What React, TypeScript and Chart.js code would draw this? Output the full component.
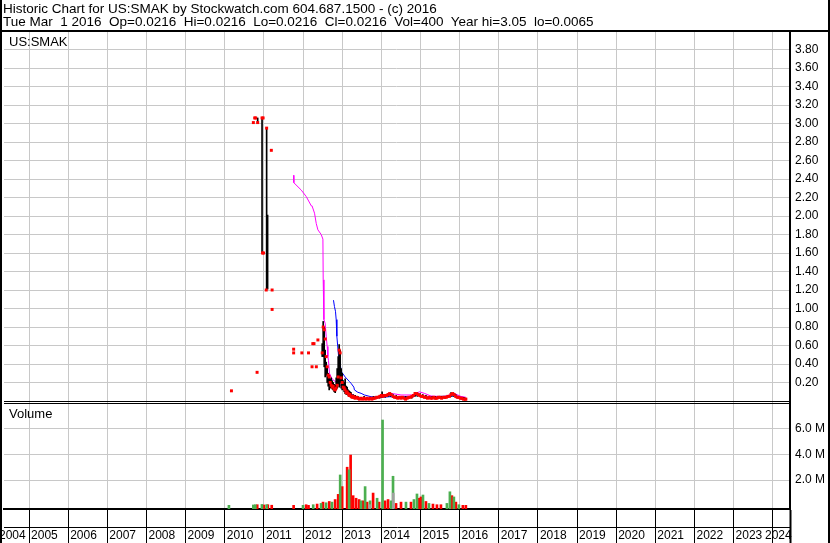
import React, { useEffect, useRef } from 'react';
import { Chart, registerables } from 'chart.js';

Chart.register(...registerables);

const HEADER_LINE_1 = 'Historic Chart for US:SMAK by Stockwatch.com 604.687.1500 - (c) 2016';
const HEADER_LINE_2 = 'Tue Mar  1 2016  Op=0.0216  Hi=0.0216  Lo=0.0216  Cl=0.0216  Vol=400  Year hi=3.05  lo=0.0065';
const PRICE_PANEL_LABEL = 'US:SMAK';
const VOLUME_PANEL_LABEL = 'Volume';

const yearTicks = [2004, 2005, 2006, 2007, 2008, 2009, 2010, 2011, 2012, 2013, 2014, 2015, 2016, 2017, 2018, 2019, 2020, 2021, 2022, 2023, 2024];
const priceTicks = [0.2, 0.4, 0.6, 0.8, 1.0, 1.2, 1.4, 1.6, 1.8, 2.0, 2.2, 2.4, 2.6, 2.8, 3.0, 3.2, 3.4, 3.6, 3.8];
const volumeTicks = [2, 4, 6];

const X_MIN = 2004.3604;
const X_MAX = 2024.4409;
const P_MIN = -0.0216;
const P_MAX = 4.0;
const V_MIN = -0.232;
const V_MAX = 7.966;

// high-low bars
const barX = [2010.841, 2010.953, 2011.07, 2011.095,
  2012.49, 2012.515, 2012.541, 2012.566, 2012.592, 2012.617, 2012.643, 2012.668, 2012.694, 2012.719,
  2012.745, 2012.77, 2012.796, 2012.821, 2012.847, 2012.872, 2012.898, 2012.923, 2012.948, 2012.974,
  2013.0, 2013.025, 2013.051, 2013.076, 2013.102, 2013.127, 2013.153, 2013.178, 2013.204, 2013.229,
  2013.28, 2013.33, 2013.4, 2013.48, 2013.56, 2013.64, 2013.72, 2013.8, 2013.88, 2013.96,
  2014.02, 2014.1, 2014.17, 2014.23, 2014.3, 2014.38, 2014.46, 2014.54, 2014.62, 2014.7,
  2014.78, 2014.86, 2014.92, 2014.99, 2015.06, 2015.14, 2015.22, 2015.3, 2015.38, 2015.46,
  2015.54, 2015.62, 2015.7, 2015.78, 2015.84, 2015.9, 2015.96, 2016.04, 2016.11, 2016.16];
const barLow = [3.0, 1.6, 1.21, 1.21,
  0.48, 0.48, 0.37, 0.26, 0.28, 0.2, 0.16, 0.12, 0.14, 0.15,
  0.13, 0.12, 0.1, 0.09, 0.12, 0.14, 0.18, 0.15, 0.2, 0.14,
  0.12, 0.13, 0.1, 0.08, 0.07, 0.07, 0.06, 0.05, 0.05, 0.04,
  0.03, 0.03, 0.02, 0.02, 0.02, 0.02, 0.02, 0.02, 0.03, 0.03,
  0.04, 0.04, 0.05, 0.05, 0.04, 0.03, 0.03, 0.03, 0.02, 0.03,
  0.03, 0.05, 0.05, 0.05, 0.04, 0.03, 0.03, 0.03, 0.02, 0.03,
  0.03, 0.03, 0.04, 0.05, 0.05, 0.04, 0.03, 0.02, 0.02, 0.02];
const barHigh = [3.06, 3.06, 2.95, 2.01,
  0.62, 0.86, 0.8, 0.55, 0.42, 0.36, 0.3, 0.28, 0.24, 0.25,
  0.22, 0.2, 0.18, 0.17, 0.25, 0.35, 0.48, 0.61, 0.55, 0.35,
  0.3, 0.22, 0.2, 0.24, 0.16, 0.15, 0.12, 0.11, 0.1, 0.09,
  0.07, 0.06, 0.05, 0.04, 0.05, 0.04, 0.04, 0.05, 0.05, 0.06,
  0.1, 0.07, 0.08, 0.09, 0.07, 0.06, 0.05, 0.05, 0.05, 0.05,
  0.06, 0.09, 0.09, 0.08, 0.07, 0.06, 0.05, 0.05, 0.05, 0.05,
  0.05, 0.05, 0.06, 0.09, 0.09, 0.07, 0.05, 0.04, 0.04, 0.03];

// closing prices (red marks)
const closeX = [2010.171, 2010.731, 2010.765, 2010.79, 2010.826, 2010.841, 2010.953, 2010.98, 2010.965, 2010.99,
  2011.07, 2011.06, 2011.19, 2011.21, 2011.21, 2011.76, 2011.76, 2011.97, 2012.14, 2012.23, 2012.25, 2012.28,
  2012.34, 2012.38, 2012.49, 2012.515, 2012.541, 2012.566, 2012.592, 2012.617, 2012.643, 2012.668, 2012.694,
  2012.719, 2012.745, 2012.77, 2012.796, 2012.821, 2012.847, 2012.872, 2012.898, 2012.923, 2012.948, 2012.974,
  2013.0, 2013.025, 2013.051, 2013.076, 2013.102, 2013.127, 2013.153, 2013.178, 2013.204, 2013.229, 2013.255,
  2013.28, 2013.305, 2013.33, 2013.37, 2013.4, 2013.44, 2013.48, 2013.52, 2013.56, 2013.6, 2013.64, 2013.68,
  2013.72, 2013.76, 2013.8, 2013.84, 2013.88, 2013.92, 2013.96, 2014.0, 2014.04, 2014.08, 2014.13, 2014.17,
  2014.21, 2014.25, 2014.3, 2014.34, 2014.38, 2014.42, 2014.46, 2014.5, 2014.54, 2014.58, 2014.62, 2014.66,
  2014.7, 2014.74, 2014.78, 2014.82, 2014.86, 2014.9, 2014.94, 2014.98, 2015.02, 2015.06, 2015.1, 2015.14,
  2015.18, 2015.22, 2015.26, 2015.3, 2015.34, 2015.38, 2015.42, 2015.46, 2015.5, 2015.54, 2015.58, 2015.62,
  2015.66, 2015.7, 2015.74, 2015.78, 2015.82, 2015.86, 2015.9, 2015.94, 2015.98, 2016.02, 2016.06, 2016.1,
  2016.14, 2016.16];
const closeV = [0.11, 3.01, 3.06, 3.06, 0.31, 3.01, 3.06, 3.06, 1.6, 1.6,
  2.95, 1.2, 2.71, 1.2, 0.99, 0.56, 0.52, 0.52, 0.52, 0.37, 0.62, 0.62,
  0.37, 0.66, 0.52, 0.8, 0.77, 0.67, 0.48, 0.37, 0.28, 0.26, 0.2,
  0.17, 0.15, 0.16, 0.13, 0.12, 0.14, 0.17, 0.26, 0.55, 0.52, 0.25,
  0.2, 0.15, 0.14, 0.12, 0.09, 0.1, 0.08, 0.06, 0.07, 0.05, 0.04,
  0.05, 0.04, 0.03, 0.04, 0.03, 0.02, 0.03, 0.02, 0.03, 0.02, 0.03, 0.02,
  0.03, 0.02, 0.03, 0.03, 0.04, 0.04, 0.05, 0.06, 0.05, 0.06, 0.06, 0.07,
  0.08, 0.07, 0.05, 0.04, 0.04, 0.03, 0.04, 0.03, 0.04, 0.03, 0.02, 0.03,
  0.04, 0.04, 0.05, 0.06, 0.08, 0.08, 0.07, 0.06, 0.05, 0.05, 0.04, 0.04,
  0.03, 0.04, 0.03, 0.03, 0.04, 0.03, 0.03, 0.04, 0.04, 0.03, 0.04, 0.04,
  0.04, 0.05, 0.05, 0.07, 0.08, 0.07, 0.05, 0.04, 0.04, 0.03, 0.03, 0.02,
  0.02, 0.02];

// moving average (magenta)
const maPinkX = [2011.76, 2011.765, 2011.955, 2012.082, 2012.21, 2012.23, 2012.294, 2012.337, 2012.38, 2012.464,
  2012.508, 2012.515, 2012.533, 2012.566, 2012.592, 2012.617, 2012.635, 2012.65, 2012.676, 2012.719, 2012.762,
  2012.889, 2013.017, 2013.145, 2013.272, 2013.4, 2013.655, 2014.077, 2014.248, 2014.503, 2014.842, 2014.97,
  2015.097, 2015.268, 2015.6, 2015.861, 2016.03, 2016.16];
const maPinkV = [2.44, 2.36, 2.28, 2.21, 2.11, 2.11, 2.03, 1.92, 1.85, 1.8,
  1.75, 1.31, 0.88, 0.84, 0.7, 0.59, 0.48, 0.44, 0.3, 0.26, 0.23,
  0.19, 0.155, 0.12, 0.065, 0.04, 0.03, 0.046, 0.083, 0.065, 0.065, 0.1,
  0.083, 0.054, 0.046, 0.083, 0.05, 0.04];

// moving average (blue)
const maBlueX = [2012.778, 2012.803, 2012.829, 2012.847, 2012.864, 2012.905, 2012.948, 2012.974, 2013.076, 2013.186,
  2013.229, 2013.298, 2013.313, 2013.4, 2013.484, 2013.568, 2013.738, 2013.993, 2014.2, 2014.834, 2014.885,
  2015.18, 2015.93, 2016.03, 2016.16];
const maBlueV = [1.09, 1.02, 0.97, 0.88, 0.7, 0.5, 0.41, 0.32, 0.26, 0.21,
  0.19, 0.15, 0.12, 0.094, 0.083, 0.065, 0.046, 0.04, 0.046, 0.046, 0.065,
  0.046, 0.055, 0.046, 0.03];

// weekly volume in millions of shares
const volUpX = [2010.107, 2010.73, 2010.78, 2010.95, 2011.07, 2012.0, 2012.26, 2012.46, 2012.59, 2012.74,
  2012.949, 2013.178, 2013.48, 2013.586, 2013.713, 2013.892, 2014.032, 2014.248, 2014.299, 2014.63,
  2014.834, 2014.911, 2015.064, 2015.217, 2015.676, 2015.752, 2015.854, 2015.981];
const volUpV = [0.05, 0.08, 0.1, 0.12, 0.1, 0.05, 0.1, 0.2, 0.25, 0.3,
  2.4, 2.8, 0.4, 1.5, 0.4, 0.6, 6.65, 0.4, 2.3, 0.3,
  0.5, 0.93, 0.85, 0.2, 0.2, 1.1, 0.7, 0.1];
const volDownX = [2010.83, 2011.0, 2011.1, 2011.2, 2011.76, 2012.08, 2012.14, 2012.36, 2012.51, 2012.67,
  2012.82, 2012.898, 2013.0, 2013.127, 2013.216, 2013.28, 2013.356, 2013.433, 2013.535, 2013.637,
  2013.79, 2013.943, 2014.095, 2014.172, 2014.376, 2014.503, 2014.758, 2014.962, 2015.013, 2015.14,
  2015.319, 2015.421, 2015.523, 2015.803, 2015.905, 2016.083, 2016.16];
const volDownV = [0.1, 0.08, 0.1, 0.06, 0.05, 0.1, 0.05, 0.15, 0.3, 0.35,
  0.5, 0.9, 1.5, 3.0, 3.94, 0.8, 0.6, 0.5, 0.4, 0.3,
  1.0, 0.3, 0.4, 0.5, 0.2, 0.3, 0.3, 0.6, 0.7, 0.35,
  0.15, 0.1, 0.1, 0.8, 0.3, 0.05, 0.05];
const volFlatX = [2013.7, 2014.305];
const volFlatV = [0.1, 1.0];

const FONT = "'Liberation Sans', Arial, sans-serif";
const GRID = '#c8c8c8';
// year labels are kept inside the strip at both ends
const LABEL_LO = X_MIN - 0.18;
const LABEL_HI = X_MAX - 0.69;

const pts = (xs: number[], ys: any[]) => xs.map((x, i) => ({ x, y: ys[i] }));

export default function App() {
  const ref = useRef<HTMLCanvasElement>(null);
  useEffect(() => {
    const tickFont = { family: FONT, size: 12 };
    const edgeWidth = (c: any) => (c.tick && c.tick.value === X_MAX ? 2 : 1);
    const chart = new Chart(ref.current as HTMLCanvasElement, {
      type: 'bar',
      data: {
        datasets: [
          { type: 'scatter', data: pts(closeX, closeV), yAxisID: 'y', order: 0, pointStyle: 'rect', pointRadius: 2.1, pointBorderWidth: 0, backgroundColor: '#ff0000', borderColor: '#ff0000' } as any,
          { type: 'bar', data: pts(barX, barX.map((_, i) => [barLow[i], barHigh[i]])), yAxisID: 'y', order: 1, backgroundColor: '#000', borderWidth: 0, grouped: false, barThickness: 1 } as any,
          { type: 'line', data: pts(maPinkX, maPinkV), yAxisID: 'y', order: 2, borderColor: '#ff00ff', borderWidth: 1, pointRadius: 0, tension: 0 } as any,
          { type: 'line', data: pts(maBlueX, maBlueV), yAxisID: 'y', order: 3, borderColor: '#0000ff', borderWidth: 1, pointRadius: 0, tension: 0 } as any,
          { type: 'bar', data: pts(volFlatX, volFlatV), yAxisID: 'yv', order: 4, backgroundColor: '#a0a0a0', borderWidth: 0, grouped: false, barThickness: 2, base: V_MIN } as any,
          { type: 'bar', data: pts(volUpX, volUpV), yAxisID: 'yv', order: 5, backgroundColor: '#4caf50', borderWidth: 0, grouped: false, barThickness: 2, base: V_MIN } as any,
          { type: 'bar', data: pts(volDownX, volDownV), yAxisID: 'yv', order: 6, backgroundColor: '#ff0000', borderWidth: 0, grouped: false, barThickness: 2, base: V_MIN } as any,
        ],
      },
      options: {
        animation: false,
        responsive: false,
        events: [],
        layout: { padding: { top: 31, left: 2, right: 0, bottom: 0 } },
        plugins: { legend: { display: false }, tooltip: { enabled: false }, title: { display: false } },
        scales: {
          x: {
            type: 'linear', position: 'bottom', min: X_MIN, max: X_MAX, offset: false,
            afterBuildTicks: (s: any) => { s.ticks = yearTicks.filter(v => v > X_MIN).map(v => ({ value: v })).concat([{ value: X_MAX }]); },
            afterFit: (s: any) => { s.height = 18; s.paddingLeft = 0; s.paddingRight = 0; },
            grid: { color: GRID, offset: false, drawTicks: true, tickLength: 34, tickColor: '#000', tickWidth: edgeWidth },
            border: { display: true, color: '#000', width: 2 },
            ticks: { display: false },
          },
          x2: {
            type: 'linear', axis: 'x', position: 'bottom', min: X_MIN, max: X_MAX, offset: false,
            afterBuildTicks: (s: any) => { s.ticks = yearTicks.map(v => ({ value: Math.min(Math.max(v, LABEL_LO), LABEL_HI) })); },
            afterFit: (s: any) => { s.height = 16; s.paddingLeft = 0; s.paddingRight = 0; },
            grid: { display: false, drawOnChartArea: false, drawTicks: false, offset: false },
            border: { display: true, color: '#000', width: 1 },
            ticks: {
              autoSkip: false, maxRotation: 0, minRotation: 0, align: 'start', labelOffset: 2, padding: 1,
              color: '#000', font: tickFont,
              callback: (_v: any, i: number) => String(yearTicks[i]),
            },
          },
          y: {
            type: 'linear', position: 'right', stack: 'panels', stackWeight: 372, stacked: false,
            min: P_MIN, max: P_MAX,
            afterBuildTicks: (s: any) => { s.ticks = [0].concat(priceTicks, [P_MAX]).map(v => ({ value: v })); },
            afterFit: (s: any) => { s.width = 40; },
            grid: { color: (c: any) => (c.tick && c.tick.value === 0 ? '#000' : GRID), drawTicks: false },
            border: { display: true, color: '#000', width: 2 },
            ticks: { autoSkip: false, color: '#000', font: tickFont, padding: 5, callback: (v: any) => (priceTicks.includes(v) ? Number(v).toFixed(2) : '') },
          },
          yv: {
            type: 'linear', position: 'right', stack: 'panels', stackWeight: 106, stacked: false,
            min: V_MIN, max: V_MAX,
            afterBuildTicks: (s: any) => { s.ticks = volumeTicks.concat([V_MAX]).map(v => ({ value: v })); },
            afterFit: (s: any) => { s.width = 40; },
            grid: { color: (c: any) => (c.tick && c.tick.value === V_MAX ? '#000' : GRID), drawTicks: false },
            border: { display: true, color: '#000', width: 2 },
            ticks: { autoSkip: false, color: '#000', font: tickFont, padding: 5, callback: (v: any) => (volumeTicks.includes(v) ? Number(v).toFixed(1) + ' M' : '') },
          },
        },
      } as any,
    });
    return () => chart.destroy();
  }, []);

  const text: React.CSSProperties = { position: 'absolute', fontFamily: FONT, color: '#000', whiteSpace: 'pre' };
  const line = (l: number, t: number, w: number, h: number) => (
    <div style={{ position: 'absolute', left: l, top: t, width: w, height: h, background: '#000' }} />
  );
  return (
    <div style={{ position: 'fixed', left: 0, top: 0, width: 830, height: 543, overflow: 'hidden', background: '#fff' }}>
      <canvas ref={ref} width={830} height={543} style={{ position: 'absolute', left: 0, top: 0 }} />
      {line(0, 0, 2, 543)}
      {line(0, 30, 830, 2)}
      {line(828, 0, 2, 543)}
      <div style={{ ...text, left: 3, top: 2, fontSize: 13.5, lineHeight: '13px' }}>{HEADER_LINE_1 + '\n' + HEADER_LINE_2}</div>
      <div style={{ ...text, left: 9, top: 35, fontSize: 13, lineHeight: '13px' }}>{PRICE_PANEL_LABEL}</div>
      <div style={{ ...text, left: 9, top: 407, fontSize: 13, lineHeight: '13px' }}>{VOLUME_PANEL_LABEL}</div>
    </div>
  );
}
